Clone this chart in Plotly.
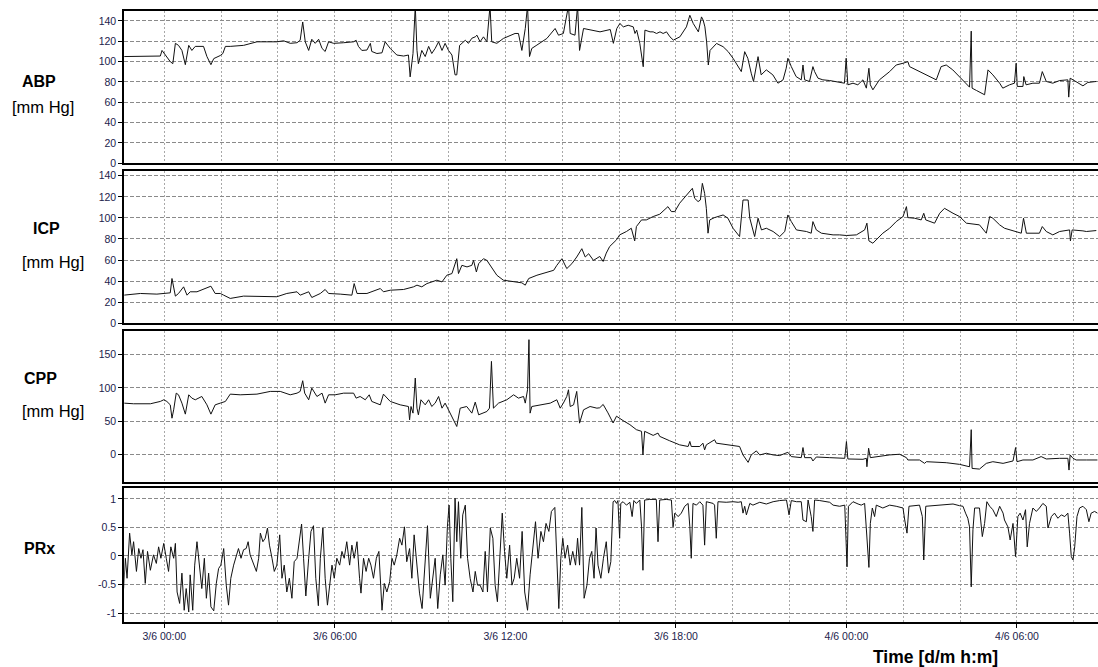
import pandas as pd
import plotly.graph_objects as go

# ---------------- data (hours relative to 3/6 00:00, values in data units) ----------------
abp_hours = [-1.43, -0.14, -0.08, 0.04, 0.21, 0.30, 0.39, 0.50, 0.62, 0.74, 0.86, 0.97, 1.09, 1.38, 1.50, 1.64, 1.74, 1.97,
             2.06, 2.15, 2.32, 2.79, 3.26, 3.61, 3.96, 4.20, 4.43, 4.67, 4.78, 4.87, 4.96, 5.08, 5.19, 5.31, 5.43, 5.55,
             5.66, 5.78, 5.96, 6.31, 6.66, 6.75, 6.83, 6.95, 7.13, 7.25, 7.30, 7.48, 7.66, 7.77, 7.95, 8.18, 8.42, 8.59,
             8.65, 8.75, 8.83, 8.89, 8.94, 9.06, 9.18, 9.30, 9.41, 9.53, 9.65, 9.77, 9.88, 10.00, 10.12, 10.23, 10.29,
             10.39, 10.47, 10.59, 10.70, 10.82, 10.94, 11.00, 11.11, 11.23, 11.35, 11.46, 11.52, 11.70, 11.93, 12.17,
             12.34, 12.46, 12.58, 12.70, 12.78, 12.85, 12.93, 13.11, 13.46, 13.75, 13.87, 14.04, 14.22, 14.28, 14.45,
             14.54, 14.61, 14.75, 14.98, 15.33, 15.69, 15.80, 15.92, 16.03, 16.15, 16.32, 16.50, 16.56, 16.62, 16.73,
             16.85, 16.91, 17.09, 17.20, 17.32, 17.44, 17.55, 17.67, 17.79, 17.91, 18.14, 18.37, 18.49, 18.61, 18.79,
             18.90, 18.96, 19.02, 19.08, 19.14, 19.20, 19.31, 19.43, 19.66, 19.84, 20.01, 20.18, 20.30, 20.42, 20.53,
             20.65, 20.73, 20.89, 21.00, 21.18, 21.41, 21.59, 21.77, 21.88, 21.94, 22.06, 22.23, 22.41, 22.47, 22.53,
             22.70, 22.82, 22.88, 23.00, 23.17, 23.41, 23.64, 23.93, 23.99, 24.05, 24.23, 24.40, 24.58, 24.70, 24.79,
             24.84, 24.93, 25.16, 25.52, 25.75, 25.99, 26.16, 26.22, 26.57, 26.92, 27.16, 27.33, 27.51, 27.74, 28.10,
             28.33, 28.39, 28.42, 28.57, 28.86, 28.98, 29.15, 29.39, 29.50, 29.74, 29.91, 29.97, 30.01, 30.21, 30.24,
             30.32, 30.56, 30.79, 30.89, 31.03, 31.26, 31.50, 31.79, 31.82, 31.87, 31.97, 32.08, 32.32, 32.49, 32.79]
abp_values = [105, 105.5, 111, 106, 100, 98, 118, 116, 111, 97, 116, 111, 115, 115, 105, 97, 103, 106,
              108, 115, 115, 116, 119.5, 119.5, 119.5, 120.5, 118, 118.6, 121, 139, 119.5, 111, 122, 118, 122, 113,
              110, 119.5, 118, 118.6, 119.5, 121, 115, 111, 111.4, 118, 110, 108, 108.7, 119.5, 113, 106.5, 105.5, 106.5,
              85, 108, 155, 111, 98, 111, 105, 115, 108, 113, 119.5, 111, 118, 111, 106.5, 87, 87,
              116, 118, 121, 118, 123, 124.4, 126, 119.5, 124.4, 119.5, 155, 119.5, 118, 122.8, 126,
              127.7, 127.7, 111, 132.6, 155, 105, 113, 116.3, 122.8, 132.6, 126, 127.7, 155, 127.7, 126,
              155, 111, 132.6, 131, 129.3, 131.6, 118, 132.6, 137.5, 134.2, 135.8, 134.2, 127.7, 131, 118,
              95, 131, 129.3, 129.3, 127.7, 129.3, 127.7, 129.3, 124.4, 121.2, 124.4, 134.2, 145.6, 137.5, 129.3,
              144, 140.7, 134.2, 119.5, 96.7, 111, 114.7, 117.9, 114.7, 109.8, 103.3, 95.1, 90.2, 109.8, 103.3,
              88.6, 80.5, 104.9, 87, 91.9, 87, 78.8, 82.1, 93.5, 103.3, 95.1, 85.3, 82.1, 96.7, 82.1,
              80.5, 95.1, 90.2, 83.7, 82.1, 81.4, 80.5, 78.8, 103.3, 77.2, 78.8, 77.2, 82.1, 73.9, 93.5,
              77.2, 72.3, 82.1, 90.2, 96.7, 98.4, 100, 95.1, 90.2, 85.3, 82.1, 95.1, 96.7, 91.9, 82.1,
              74.9, 130, 73.9, 71.7, 67.4, 91.9, 87, 78.8, 73.9, 77.2, 78.8, 98.4, 75.6, 75.6, 85.3,
              77.2, 78.8, 78.8, 90.2, 80.5, 78.8, 81.4, 82.1, 65.1, 83.7, 82.1, 80.5, 76.2, 79.5, 80.5]

icp_hours = [-1.43, -0.84, -0.26, 0.09, 0.21, 0.27, 0.33, 0.39, 0.50, 0.68, 0.80, 0.91, 1.15, 1.44, 1.64, 1.79, 1.97,
             2.09, 2.32, 2.79, 3.26, 3.73, 3.96, 4.31, 4.67, 4.78, 4.96, 5.08, 5.19, 5.49, 5.66, 5.78, 6.19, 6.60, 6.68,
             6.78, 7.13, 7.60, 7.71, 7.95, 8.42, 8.77, 8.89, 9.06, 9.24, 9.41, 9.59, 9.77, 9.94, 10.12, 10.29, 10.35,
             10.47, 10.65, 10.82, 10.88, 10.98, 11.06, 11.23, 11.35, 11.47, 11.70, 11.93, 12.29, 12.58, 12.70, 12.82,
             13.11, 13.46, 13.70, 13.81, 13.99, 14.16, 14.34, 14.51, 14.69, 14.81, 14.93, 15.10, 15.32, 15.44, 15.55,
             15.67, 15.79, 15.91, 16.02, 16.26, 16.43, 16.55, 16.61, 16.79, 16.96, 17.20, 17.43, 17.61, 17.72, 17.84,
             17.96, 18.13, 18.37, 18.58, 18.66, 18.78, 18.86, 18.93, 19.01, 19.07, 19.13, 19.19, 19.36, 19.66, 19.83,
             20.01, 20.24, 20.36, 20.54, 20.60, 20.77, 20.89, 21.01, 21.18, 21.42, 21.65, 21.83, 21.94, 22.06, 22.24,
             22.59, 22.76, 22.82, 22.94, 23.12, 23.53, 23.76, 24.00, 24.35, 24.64, 24.72, 24.79, 24.93, 25.05, 25.28,
             25.52, 25.75, 25.99, 26.11, 26.16, 26.40, 26.63, 26.72, 26.79, 27.10, 27.28, 27.45, 27.75, 27.98, 28.22,
             28.68, 28.92, 29.04, 29.15, 29.39, 29.56, 29.97, 30.15, 30.23, 30.33, 30.79, 30.89, 31.03, 31.26, 31.50,
             31.85, 31.88, 31.94, 32.32, 32.44, 32.79]
icp_values = [26.7, 28.3, 27.7, 28.3, 28.9, 42.5, 34.6, 25.8, 28.3, 34.6, 26.7, 29.9, 29.9, 33, 35.2, 28.3, 28.3,
              26.7, 23.6, 25.8, 25.8, 25.8, 25.2, 28.3, 29.9, 26.7, 28.3, 29.9, 24.5, 28.3, 32.1, 28.3, 27.7, 26.7, 37.7,
              28.3, 28.3, 33, 29.9, 31.4, 32.1, 34.6, 36.2, 34.6, 37.7, 39.3, 40.9, 39.3, 45.6, 47.2, 61.3, 47.2,
              55, 53.5, 55, 59.7, 48.7, 56.6, 61.3, 59.7, 55, 45.6, 40.9, 39.3, 38.4, 36.2, 42.5,
              45.6, 48.7, 50.3, 55, 61.3, 51.9, 56.6, 62.9, 70.8, 62.9, 66, 59.7, 63.4, 58.7, 66.6,
              72.9, 76, 79.2, 83.9, 87.1, 90.2, 78.2, 91.8, 98.1, 98.1, 101.3, 103.5, 107.6, 110.7, 106,
              106, 113.9, 121.8, 128.1, 118.6, 115.5, 117, 132.8, 123.3, 109.1, 85.5, 98.1, 100.3, 102.8, 99.7,
              90.2, 82.3, 117, 117, 99.7, 82.3, 99.7, 88.6, 90.2, 87.1, 82.3, 87.1, 102.8, 96.5, 88.6,
              87.1, 85.5, 96.5, 88.6, 85.5, 83.9, 83.9, 83.3, 83.9, 88.6, 95, 78.2, 76, 79.2, 85.5,
              90.2, 96.5, 101.3, 110.7, 100.3, 99.7, 98.1, 104.4, 98.1, 95, 104.4, 109.1, 104.4, 101.3, 95,
              93.4, 85.5, 101.3, 99.7, 93.4, 90.2, 87.1, 85.5, 99.7, 85.5, 85.5, 91.8, 87.1, 83.9, 87.1,
              88.6, 78.2, 88.6, 87.7, 87.1, 88]

cpp_hours = [-1.43, -1.08, -0.49, -0.14, -0.02, 0.09, 0.21, 0.27, 0.33, 0.42, 0.50, 0.62, 0.74, 0.86, 0.97, 1.09,
             1.32, 1.50, 1.64, 1.79, 1.97, 2.15, 2.32, 2.67, 3.26, 3.73, 4.08, 4.26, 4.43, 4.67, 4.78, 4.87, 4.94, 5.08,
             5.19, 5.37, 5.55, 5.66, 5.78, 6.01, 6.31, 6.66, 6.75, 6.89, 7.07, 7.21, 7.30, 7.60, 7.71, 7.95, 8.30, 8.59,
             8.63, 8.68, 8.75, 8.83, 8.89, 8.94, 9.03, 9.18, 9.30, 9.41, 9.53, 9.65, 9.77, 9.88, 10.00, 10.18, 10.29,
             10.41, 10.64, 10.82, 10.94, 11.06, 11.23, 11.35, 11.44, 11.51, 11.58, 11.76, 12.05, 12.29, 12.46, 12.64,
             12.70, 12.78, 12.83, 12.87, 12.93, 13.22, 13.58, 13.81, 13.93, 14.04, 14.16, 14.22, 14.28, 14.40, 14.51,
             14.61, 14.75, 14.98, 15.22, 15.32, 15.44, 15.61, 15.79, 15.91, 16.02, 16.14, 16.38, 16.61, 16.79, 16.84,
             16.90, 17.20, 17.37, 17.43, 17.78, 18.13, 18.43, 18.49, 18.54, 18.84, 18.95, 19.01, 19.07, 19.36, 19.42,
             20.01, 20.24, 20.36, 20.54, 20.65, 20.83, 20.95, 21.18, 21.42, 21.65, 21.94, 22.06, 22.41, 22.47, 22.53,
             22.76, 22.82, 22.94, 23.41, 23.94, 24.00, 24.05, 24.58, 24.70, 24.72, 24.78, 24.84, 25.05, 25.52, 25.87,
             26.11, 26.16, 26.57, 26.75, 26.81, 27.51, 27.98, 28.33, 28.39, 28.42, 28.68, 28.92, 29.15, 29.51, 29.86,
             29.95, 30.00, 30.21, 30.56, 30.85, 31.03, 31.50, 31.79, 31.83, 31.87, 31.97, 32.08, 32.44, 32.83]
cpp_values = [77, 76, 76, 79.5, 82, 79.5, 74.4, 54.3, 66.9, 92, 89.5, 77, 60.4, 89.5, 84.5, 82,
              87, 74.4, 60.4, 74.4, 77, 79.5, 90.5, 89.5, 90.5, 94.6, 94.6, 92, 89.5, 92, 94.6, 110.7, 92, 82,
              99.6, 87, 92, 77, 89.5, 89.5, 92, 92, 84.5, 87, 82, 89.5, 79.5, 74.4, 90.5, 79.5, 74.4, 71.9,
              51.8, 71.9, 61.9, 114.7, 69.4, 59.4, 82, 74.4, 82, 71.9, 77, 87, 69.4, 77, 66.9, 51.8, 41.8,
              69.4, 71.9, 61.9, 78.5, 59.4, 61.9, 64.4, 69.4, 139.8, 69.4, 77, 82, 89.5, 84.5, 87,
              77, 97.1, 172.5, 61.9, 71.9, 74.4, 77, 82, 69.4, 77, 87, 97.1, 71.9, 74.4, 94.6,
              46.8, 66.9, 71.9, 69.4, 70, 75, 62.3, 47.1, 57.3, 54.7, 50.7, 44.6, 37, 34.5, -1,
              34.5, 28.4, 31.9, 26.9, 20.3, 14.2, 11.7, 19.3, 11.7, 11.7, 16.7, 6.6, 14.2, 21.8, 16.7,
              13.2, 11.7, -1, -12.2, -1, 5.1, -1, 1.5, -1, -2, 3, -3.5, -5.1, 10.1, -5.1,
              -5.1, -10.1, -4.1, -5.1, -6.1, 19.3, -7.1, -7.6, -6.1, -18.8, 9.1, -5.1, -3.5, -1, 0,
              -5.1, -8.6, -8.6, -13.7, -11.2, -12.7, -15.2, -18.8, 37, -21.3, -22.3, -13.7, -11.2, -13.7, -10.1,
              10.1, -11.2, -8.6, -8.6, -3.5, -7.1, -6.1, -6.1, -23.8, -1, -6.1, -8.6, -8.6, -8.6]

prx_hours = [-1.43, -1.37, -1.31, -1.22, -1.14, -1.08, -0.98, -0.90, -0.82, -0.75, -0.67, -0.59, -0.49, -0.38, -0.28,
             -0.20, -0.12, -0.02, 0.07, 0.15, 0.23, 0.33, 0.39, 0.45, 0.54, 0.62, 0.70, 0.77, 0.86, 0.91, 1.00, 1.07,
             1.15, 1.24, 1.32, 1.41, 1.48, 1.56, 1.64, 1.74, 1.83, 1.91, 1.99, 2.09, 2.18, 2.26, 2.34, 2.44, 2.53, 2.61,
             2.70, 2.79, 2.88, 2.95, 3.02, 3.14, 3.24, 3.32, 3.38, 3.47, 3.55, 3.63, 3.70, 3.79, 3.87, 3.96, 4.06, 4.14,
             4.22, 4.31, 4.40, 4.49, 4.57, 4.67, 4.75, 4.83, 4.90, 4.98, 5.08, 5.16, 5.25, 5.33, 5.42, 5.49, 5.58, 5.66,
             5.74, 5.81, 5.90, 5.98, 6.07, 6.17, 6.25, 6.33, 6.42, 6.52, 6.60, 6.68, 6.78, 6.87, 6.92, 7.01, 7.10, 7.19,
             7.27, 7.36, 7.46, 7.55, 7.66, 7.74, 7.83, 7.93, 8.01, 8.09, 8.18, 8.28, 8.36, 8.45, 8.53, 8.63, 8.71, 8.79,
             8.89, 8.98, 9.07, 9.17, 9.26, 9.36, 9.45, 9.53, 9.62, 9.71, 9.80, 9.88, 9.96, 10.02, 10.08, 10.15, 10.23,
             10.29, 10.35, 10.43, 10.50, 10.59, 10.67, 10.76, 10.86, 10.94, 11.02, 11.11, 11.21, 11.29, 11.37, 11.47,
             11.56, 11.64, 11.72, 11.82, 11.89, 11.97, 12.05, 12.15, 12.23, 12.31, 12.40, 12.50, 12.59, 12.68, 12.78,
             12.87, 12.97, 13.06, 13.15, 13.25, 13.34, 13.43, 13.53, 13.62, 13.74, 13.81, 13.88, 13.95, 14.02, 14.10,
             14.19, 14.28, 14.37, 14.47, 14.54, 14.61, 14.69, 14.77, 14.87, 14.96, 15.04, 15.12, 15.19, 15.26, 15.36,
             15.45, 15.55, 15.63, 15.71,
             15.79, 15.85, 15.91, 15.96, 16.02, 16.06, 16.14, 16.26, 16.38, 16.46, 16.52, 16.61, 16.73, 16.79, 16.84,
             16.90, 17.08, 17.31, 17.37, 17.43, 17.66, 17.84, 17.90, 17.96, 18.08, 18.19, 18.31, 18.43, 18.49, 18.54,
             18.60, 18.72, 18.84, 18.95, 19.01, 19.07, 19.31, 19.36, 19.42, 19.48, 19.77, 20.01, 20.19, 20.30, 20.36,
             20.42, 20.48, 20.60, 20.71, 20.83, 20.95, 21.18, 21.42, 21.65, 21.89, 21.98, 22.06, 22.24, 22.41, 22.47,
             22.59, 22.65, 22.76, 22.82, 22.88, 23.06, 23.29, 23.41, 23.53, 23.76, 23.94, 23.97, 24.02, 24.07, 24.23,
             24.41, 24.52, 24.64, 24.70, 24.79, 24.84, 24.91, 24.99, 25.05, 25.28, 25.52, 25.75, 25.99, 26.05, 26.13,
             26.20, 26.40, 26.57, 26.67, 26.72, 26.79, 27.04, 27.40, 27.75, 27.98, 28.10, 28.19, 28.27, 28.33, 28.39,
             28.45, 28.51, 28.68, 28.78, 28.86, 28.94, 29.04, 29.15, 29.27, 29.39, 29.51, 29.56, 29.68, 29.76, 29.86,
             29.95, 30.03, 30.11, 30.21, 30.30, 30.36, 30.44, 30.56, 30.68, 30.79, 30.91, 31.03, 31.09, 31.21, 31.32,
             31.44, 31.56, 31.68, 31.79, 31.85, 31.91, 31.97, 32.03, 32.11, 32.20, 32.32, 32.44, 32.53, 32.61, 32.73,
             32.83]
prx_values = [-0.57, -0.04, -0.39, 0.40, 0.02, 0.25, -0.27, 0.13, -0.04, 0.11, -0.48, 0.08, -0.25, 0.02, -0.13,
              0.16, -0.04, 0.22, -0.04, -0.27, 0.16, -0.04, 0.22, -0.63, -0.83, -0.30, -0.95, -0.57, -0.98, -0.33, -0.95, -0.16,
              0.25, -0.22, -0.57, -0.04, -0.74, -0.30, -0.89, -0.96, -0.48, -0.22, -0.16, 0.13, -0.51, -0.86, -0.39, -0.16, 0.02, 0.13,
              -0.04, 0.11, 0.13, 0.25, 0.02, -0.16, -0.27, -0.04, 0.40, 0.25, 0.31, 0.49, 0.19, -0.04, -0.27, -0.16, 0.37, -0.39,
              -0.16, -0.63, -0.39, -0.74, -0.10, -0.04, 0.25, 0.56, -0.04, -0.70, -0.04, 0.43, 0.53, -0.39, -0.87, -0.04, 0.49, -0.39,
              -0.86, -0.51, -0.16, -0.39, -0.04, -0.16, 0.08, -0.04, 0.25, -0.16, 0.19, -0.04, 0.25, -0.39, -0.65, -0.04, -0.27, -0.04,
              -0.16, -0.39, -0.04, 0.08, -0.95, -0.48, -0.63, -0.45, -0.04, -0.16, 0.02, 0.31, 0.19, 0.51, -0.10, 0.13, -0.39, 0.37,
              -0.16, -0.65, -0.92, -0.04, 0.53, -0.74, -0.39, -0.04, -0.92, -0.33, 0.02, -0.51, 0.51, 0.89, -0.04, -0.80, 1.01,
              0.25, 0.95, -0.04, 0.72, 0.89, -0.04, -0.39, -0.63, -0.27, -0.51, -0.51, -0.63, 0.08, -0.63, 0.49,
              0.31, -0.51, -0.80, 0.19, 0.75, 0.08, -0.39, 0.19, -0.51, -0.39, -0.04, -0.39, 0.43, -0.63, -0.95,
              -0.33, 0.19, 0.60, -0.04, 0.43, 0.25, 0.57, 0.43, 0.78, 0.85, -0.04, -0.92, -0.04, 0.31, -0.04,
              0.19, -0.16, 0.08, -0.16, 0.31, -0.16, 0.85, -0.74, -0.51, -0.04, 0.08, -0.39, 0.49, -0.16, -0.39,
              -0.04, 0.25, -0.30, -0.10,
              0.95, 0.97, 0.92, 0.97, 0.31, 0.92, 0.95, 0.89, 0.94, 0.69, 0.97, 0.92, 0.98, 0.51, -0.25,
              0.98, 0.99, 0.99, 0.25, 0.98, 0.99, 0.98, 0.51, 0.75, 0.69, 0.75, 0.87, 0.92, 0.51, -0.04,
              0.92, 0.89, 0.95, 0.89, 0.19, 0.95, 0.92, 0.89, 0.31, 0.95, 0.94, 0.95, 0.94, 0.95, 0.75,
              0.87, 0.72, 0.92, 0.89, 0.92, 0.94, 0.91, 0.95, 0.97, 0.98, 0.72, 0.97, 0.95, 0.95, 0.63,
              0.60, 0.98, 0.69, 0.43, 0.98, 0.97, 0.95, 0.94, 0.89, 0.87, 0.89, 0.37, -0.19, 0.87, 0.95,
              0.91, 0.89, 0.92, 0.40, -0.20, 0.57, 0.84, 0.69, 0.89, 0.84, 0.89, 0.87, 0.84, 0.63, 0.40,
              0.87, 0.88, 0.89, 0.69, -0.07, 0.87, 0.88, 0.89, 0.91, 0.88, 0.87, 0.75, 0.66, 0.51, -0.54,
              0.46, 0.84, 0.84, 0.34, 0.57, 0.95, 0.87, 0.81, 0.69, 0.87, 0.75, 0.63, 0.51, 0.28, 0.57,
              -0.01, 0.69, 0.75, 0.63, 0.81, 0.16, 0.57, 0.84, 0.78, 0.84, 0.92, 0.87, 0.49, 0.69, 0.75,
              0.66, 0.72, 0.69, 0.75, 0.40, -0.01, -0.07, 0.16, 0.69, 0.84, 0.87, 0.81, 0.60, 0.75, 0.78,
              0.75]

start_time = "2015-06-03 00:00"
x_label_hours = [0, 6, 12, 18, 24, 30]
x_labels = ["3/6 00:00", "3/6 06:00", "3/6 12:00", "3/6 18:00", "4/6 00:00", "4/6 06:00"]

abp_ticks = [0, 20, 40, 60, 80, 100, 120, 140]
icp_ticks = [0, 20, 40, 60, 80, 100, 120, 140]
cpp_ticks = [0, 50, 100, 150]
prx_ticks = [-1, -0.5, 0, 0.5, 1]
prx_tick_labels = ["-1", "-0.5", "0", "0.5", "1"]

# ---------------- figure ----------------
W, H = 1098, 667
base = pd.Timestamp(start_time)


def to_time(hours):
    return [base + pd.Timedelta(hours=h) for h in hours]


def py(ypix):
    return 1 - ypix / H


def px(xpix):
    return xpix / W


FONT = "Liberation Sans, Arial, sans-serif"
TICK_COLOR = "#1c1c4c"

series = [
    ("ABP", abp_hours, abp_values),
    ("ICP", icp_hours, icp_values),
    ("CPP", cpp_hours, cpp_values),
    ("PRx", prx_hours, prx_values),
]
domains = [(163.3, 10.7), (323.3, 170.7), (481.7, 330.7), (621.7, 488.0)]
yranges = [[0, 150.1], [0, 144.8], [-41.3, 186], [-1.15, 1.19]]
yticks = [(abp_ticks, [str(t) for t in abp_ticks]),
          (icp_ticks, [str(t) for t in icp_ticks]),
          (cpp_ticks, [str(t) for t in cpp_ticks]),
          (prx_ticks, prx_tick_labels)]

fig = go.Figure()
x_range = [base + pd.Timedelta(hours=-1.407), base + pd.Timedelta(hours=32.85)]

layout = dict(
    width=W, height=H,
    margin=dict(l=0, r=0, t=0, b=0),
    paper_bgcolor="white", plot_bgcolor="white",
    showlegend=False,
    template="none",
    font=dict(family=FONT, color="black"),
)

for i, (name, hrs, vals) in enumerate(series):
    n = i + 1
    xa = "x" if n == 1 else f"x{n}"
    ya = "y" if n == 1 else f"y{n}"
    fig.add_trace(go.Scatter(x=to_time(hrs), y=vals, mode="lines",
                             line=dict(color="#111111", width=1), xaxis=xa, yaxis=ya,
                             hoverinfo="skip"))
    bottom = (n == 4)
    layout[f"xaxis{'' if n == 1 else n}"] = dict(
        type="date", domain=[px(124.3), 1.0], anchor=ya, range=x_range,
        tickmode="array", tickvals=to_time(x_label_hours), ticktext=x_labels,
        showticklabels=bottom, ticks="outside" if bottom else "", ticklen=4,
        tickcolor="black", tickwidth=1,
        tickfont=dict(family=FONT, size=10.5, color=TICK_COLOR),
        showgrid=True, gridcolor="#a8a8a8", gridwidth=1, griddash="2px,2px",
        minor=dict(tickmode="linear", tick0=base, dtick=2 * 3600 * 1000, showgrid=True,
                   gridcolor="#a8a8a8", gridwidth=1, griddash="2px,2px", ticks=""),
        showline=True, linecolor="black", linewidth=2, mirror=True,
        zeroline=False, automargin=False, fixedrange=True,
    )
    tv, tt = yticks[i]
    layout[f"yaxis{'' if n == 1 else n}"] = dict(
        domain=[py(domains[i][0]), py(domains[i][1])], anchor=xa, range=yranges[i],
        tickmode="array", tickvals=tv, ticktext=tt,
        ticks="outside", ticklen=4, tickcolor="black", tickwidth=1,
        tickfont=dict(family=FONT, size=10.5, color=TICK_COLOR),
        showgrid=True, gridcolor="#8a8a8a", gridwidth=1, griddash="4px,2px",
        showline=True, linecolor="black", linewidth=2, mirror=False,
        zeroline=False, automargin=False, fixedrange=True,
    )

annotations = []
labels = [
    ("<b>ABP</b>", 38.5, 81, 16), ("[mm Hg]", 43, 107, 16.5),
    ("<b>ICP</b>", 46.5, 228, 16), ("[mm Hg]", 53, 262, 16.5),
    ("<b>CPP</b>", 40, 378, 16), ("[mm Hg]", 53, 411, 16.5),
    ("<b>PRx</b>", 39, 548, 16),
    ("<b>Time [d/m h:m]</b>", 936, 657, 17.5),
]
for text, xpix, ypix, size in labels:
    annotations.append(dict(text=text, x=px(xpix), y=py(ypix), xref="paper", yref="paper",
                            xanchor="center", yanchor="middle", showarrow=False,
                            font=dict(family=FONT, size=size, color="black")))
layout["annotations"] = annotations

fig.update_layout(**layout)
fig.write_html(
    "out.html",
    config={"displayModeBar": False},
    post_script="document.body.style.margin='0';document.body.style.overflow='hidden';",
)
